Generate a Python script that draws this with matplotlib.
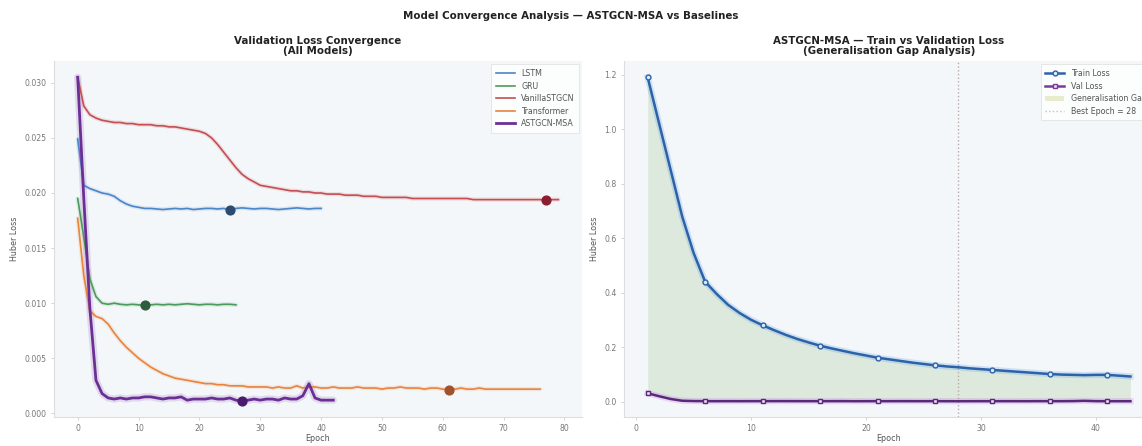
import matplotlib
matplotlib.use("Agg")
import matplotlib.pyplot as plt
from matplotlib.patches import Patch
from matplotlib.lines import Line2D
import numpy as np

# ── Validation loss per model (epoch 0 .. n-1) ──────────────────────────────
model_names = ["LSTM", "GRU", "VanillaSTGCN", "Transformer", "ASTGCN-MSA"]

lstm_val = [0.0249, 0.0207, 0.0204, 0.0202, 0.0200, 0.0199, 0.0197, 0.0193, 0.0190, 0.0188,
            0.0187, 0.0186, 0.0186, 0.01855, 0.0185, 0.01855, 0.0186, 0.01855, 0.0186, 0.0185,
            0.01855, 0.0186, 0.0186, 0.01855, 0.0186, 0.01845, 0.0186, 0.01865, 0.0186, 0.01855,
            0.0186, 0.0186, 0.01855, 0.0185, 0.01855, 0.0186, 0.01865, 0.0186, 0.01855, 0.0186,
            0.0186]

gru_val = [0.0195, 0.0160, 0.0122, 0.0106, 0.0100, 0.0099, 0.0100, 0.0099, 0.00985, 0.0099,
           0.00985, 0.0098, 0.00985, 0.0099, 0.00985, 0.0099, 0.00985, 0.0099, 0.00995, 0.0099,
           0.00985, 0.0099, 0.0099, 0.00985, 0.0099, 0.0099, 0.00985]

stgcn_val = [0.0305, 0.0279, 0.0271, 0.0268, 0.0266, 0.0265, 0.0264, 0.0264, 0.0263, 0.0263,
             0.0262, 0.0262, 0.0262, 0.0261, 0.0261, 0.0260, 0.0260, 0.0259, 0.0258, 0.0257,
             0.0256, 0.0254, 0.0250, 0.0244, 0.0237, 0.0230, 0.0223, 0.0217, 0.0213, 0.0210,
             0.0207, 0.0206, 0.0205, 0.0204, 0.0203, 0.0202, 0.0202, 0.0201, 0.0201, 0.0200,
             0.0200, 0.0199, 0.0199, 0.0199, 0.0198, 0.0198, 0.0198, 0.0197, 0.0197, 0.0197,
             0.0196, 0.0196, 0.0196, 0.0196, 0.0196, 0.0195, 0.0195, 0.0195, 0.0195, 0.0195,
             0.0195, 0.0195, 0.0195, 0.0195, 0.0195, 0.0194, 0.0194, 0.0194, 0.0194, 0.0194,
             0.0194, 0.0194, 0.0194, 0.0194, 0.0194, 0.0194, 0.0194, 0.01935, 0.0194, 0.0194]

trans_val = [0.0177, 0.0125, 0.0093, 0.0088, 0.0086, 0.0081, 0.0073, 0.0066, 0.0060, 0.0055,
             0.0050, 0.0046, 0.0042, 0.0039, 0.0036, 0.0034, 0.0032, 0.0031, 0.0030, 0.0029,
             0.0028, 0.0027, 0.0027, 0.0026, 0.0026, 0.0025, 0.0025, 0.0025, 0.0024, 0.0024,
             0.0024, 0.0024, 0.0023, 0.0024, 0.0023, 0.0023, 0.0025, 0.0023, 0.0024, 0.0024,
             0.0023, 0.0023, 0.0024, 0.0023, 0.0023, 0.0023, 0.0024, 0.0023, 0.0023, 0.0023,
             0.0022, 0.0023, 0.0023, 0.0024, 0.0023, 0.0023, 0.0023, 0.0022, 0.0023, 0.0023,
             0.0022, 0.00215, 0.0022, 0.0023, 0.0022, 0.0022, 0.0023, 0.0022, 0.0022, 0.0022,
             0.0022, 0.0022, 0.0022, 0.0022, 0.0022, 0.0022, 0.0022]

msa_val = [0.0305, 0.0195, 0.0095, 0.0030, 0.0018, 0.0014, 0.0013, 0.0014, 0.0013, 0.0014,
           0.0014, 0.0015, 0.0015, 0.0014, 0.0013, 0.0014, 0.0014, 0.0015, 0.0012, 0.0013,
           0.0013, 0.0013, 0.0014, 0.0013, 0.0013, 0.0014, 0.0012, 0.0011, 0.0012, 0.0013,
           0.0012, 0.0013, 0.0013, 0.0012, 0.0014, 0.0013, 0.0013, 0.0016, 0.0027, 0.0014,
           0.0012, 0.0012, 0.0012]

# ── ASTGCN-MSA train loss (epoch 1 .. 43) ───────────────────────────────────
msa_train = [1.19, 1.02, 0.85, 0.68, 0.545, 0.44, 0.395, 0.355, 0.325, 0.300,
             0.280, 0.262, 0.245, 0.230, 0.217, 0.205, 0.195, 0.186, 0.177, 0.169,
             0.161, 0.155, 0.149, 0.143, 0.138, 0.133, 0.129, 0.126, 0.122, 0.119,
             0.116, 0.113, 0.110, 0.107, 0.104, 0.101, 0.099, 0.098, 0.097, 0.098,
             0.098, 0.095, 0.092]
best_epoch = 28

all_val = [lstm_val, gru_val, stgcn_val, trans_val, msa_val]
line_colors = ["#4a86c8", "#4c9a5c", "#c44e52", "#e8843c", "#6b2f96"]
dot_colors = ["#2b4c6f", "#2e5e3b", "#8b1e2e", "#a0522d", "#4a1b6e"]
line_widths = [1.2, 1.2, 1.2, 1.2, 2.0]

BG = "#f4f7fa"
TXT = "#555555"

fig = plt.figure(figsize=(11.42, 4.46), dpi=100, facecolor="white")
fig.suptitle("Model Convergence Analysis \u2014 ASTGCN-MSA vs Baselines",
             fontsize=7.4, fontweight="bold", color="#222222", y=0.975)

ax1 = fig.add_axes([0.047, 0.064, 0.463, 0.799], facecolor=BG)
ax2 = fig.add_axes([0.546, 0.064, 0.465, 0.799], facecolor=BG)


def style_axes(ax):
    for side in ("top", "right"):
        ax.spines[side].set_visible(False)
    for side in ("left", "bottom"):
        ax.spines[side].set_color("#dddddd")
        ax.spines[side].set_linewidth(0.8)
    ax.tick_params(colors="#cccccc", labelcolor="#777777", labelsize=5.6, length=2.5,
                   width=0.6, pad=2.5)
    ax.set_xlabel("Epoch", fontsize=5.8, color=TXT, labelpad=0.5)
    ax.set_ylabel("Huber Loss", fontsize=5.8, color=TXT, labelpad=4)


# ── 1. Validation loss, all models ──────────────────────────────────────────
for name, vals, c, dc, lw in zip(model_names, all_val, line_colors, dot_colors, line_widths):
    ep = np.arange(len(vals))
    ax1.plot(ep, vals, color=c, lw=lw * 2.6, alpha=0.15, solid_capstyle="round")
    ax1.plot(ep, vals, color=c, lw=lw, label=name, zorder=3)
    b = int(np.argmin(vals))
    ax1.scatter([ep[b]], [vals[b]], s=40, color=dc, edgecolor=dc, zorder=5)

ax1.set_title("Validation Loss Convergence\n(All Models)", fontsize=7.4,
              fontweight="bold", color="#222222", pad=5, linespacing=1.05)
ax1.set_xticks(np.arange(0, 81, 10))
style_axes(ax1)
leg1 = ax1.legend(loc="upper right", fontsize=5.7, frameon=True, fancybox=False,
                  edgecolor="#dddddd", facecolor="white", handlelength=2.4,
                  labelspacing=0.45, borderpad=0.6, borderaxespad=0.4)
leg1.get_frame().set_linewidth(0.6)
for t in leg1.get_texts():
    t.set_color(TXT)

# ── 2. ASTGCN-MSA train vs val ──────────────────────────────────────────────
ep2 = np.arange(1, len(msa_train) + 1)
val2 = np.array(msa_val)
train2 = np.array(msa_train)

gap_color = "#a9c99b"
ax2.fill_between(ep2, val2, train2, color=gap_color, alpha=0.3, lw=0, zorder=1)
ax2.axvline(best_epoch, color="#b9a9a9", lw=1.0, ls=":", zorder=2)

ax2.plot(ep2, train2, color="#4a90e2", lw=4.5, alpha=0.22, zorder=3)
ax2.plot(ep2, train2, color="#2c62a8", lw=1.8, marker="o", markevery=5, ms=3.5,
         mfc="#dfe9f5", mec="#2c62a8", mew=1.0, zorder=4)
ax2.plot(ep2, val2, color="#c060e0", lw=4.5, alpha=0.22, zorder=3)
ax2.plot(ep2, val2, color="#5a2a7a", lw=1.8, marker="s", markevery=5, ms=3.2,
         mfc="#ecdff2", mec="#5a2a7a", mew=1.0, zorder=4)

ax2.set_title("ASTGCN-MSA \u2014 Train vs Validation Loss\n(Generalisation Gap Analysis)",
              fontsize=7.4, fontweight="bold", color="#222222", pad=5, linespacing=1.05)
ax2.set_xticks(np.arange(0, 41, 10))
style_axes(ax2)

handles = [
    Line2D([], [], color="#2c62a8", lw=1.8, marker="o", ms=3.5, mfc="#dfe9f5", mec="#2c62a8"),
    Line2D([], [], color="#7a3a9a", lw=1.8, marker="s", ms=3.2, mfc="#ecdff2", mec="#7a3a9a"),
    Patch(facecolor="#e8eccc", edgecolor="none"),
    Line2D([], [], color="#d9b9b9", lw=1.0, ls=":"),
]
labels = ["Train Loss", "Val Loss", "Generalisation Gap", f"Best Epoch = {best_epoch}"]
leg2 = ax2.legend(handles, labels, loc="upper right", fontsize=5.7, frameon=True,
                  fancybox=False, edgecolor="#dddddd", facecolor="white",
                  handlelength=2.4, labelspacing=0.45, borderpad=0.6, borderaxespad=0.4)
leg2.get_frame().set_linewidth(0.6)
for t in leg2.get_texts():
    t.set_color(TXT)

fig.savefig("out.png", dpi=100, facecolor="white")
